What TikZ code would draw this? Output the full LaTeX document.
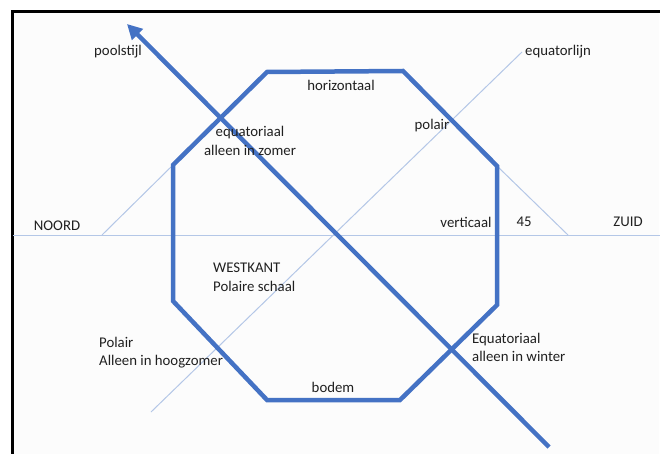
\documentclass[tikz,border=0pt]{standalone}
\usepackage{fontspec}
\setmainfont{Carlito}
\usetikzlibrary{arrows.meta}
\definecolor{thick}{HTML}{4472C4}
\definecolor{thin}{HTML}{B4C7E7}
\definecolor{txt}{HTML}{202020}
\begin{document}
\begin{tikzpicture}[x=1pt,y=-1pt,
  lbl/.style={font=\fontsize{14.8}{18.5}\selectfont,text=txt,inner sep=0pt},
  lbll/.style={lbl,align=left,anchor=north west},
  thinln/.style={draw=thin,line width=1pt},
  thickln/.style={draw=thick,line width=4.5pt},
]
\path[use as bounding box] (0,0) rectangle (660,454);
\fill[white!99!black] (13,13) rectangle (659,454);
\draw[black,line width=3pt] (12,454) -- (12,12) -- (660,12);
% coordinates
\coordinate (nA) at (102,235);
\coordinate (zA) at (660,235);
\coordinate (hL) at (13,235);
\coordinate (e1) at (151,412);
\coordinate (e2) at (522,52);
\coordinate (p1) at (549,447);
\coordinate (p2) at (127,24);
\coordinate (o1) at (267,72);
\coordinate (o2) at (403,71);
\coordinate (o3) at (497,166);
\coordinate (o4) at (497,305);
\coordinate (o5) at (400,400);
\coordinate (o6) at (267,400);
\coordinate (o7) at (173,301);
\coordinate (o8) at (173,165);
\coordinate (k45) at (568,235);
% thin lines
\draw[thinln] (hL) -- (zA);
\draw[thinln] (e1) -- (e2);
\draw[thinln] (nA) -- (o8);
\draw[thinln] (o3) -- (k45);
% octagon
\draw[thickln,line join=miter] (o1) -- (o2) -- (o3) -- (o4) -- (o5) -- (o6) -- (o7) -- (o8) -- cycle;
% pole arrow
\draw[thickln,-{Triangle[length=15pt,width=15pt]}] (p1) -- (p2);
% labels
\node[lbl] (t1) at (118,52) {poolstijl};
\node[lbl,anchor=west] (t2) at (525,52) {equatorlijn};
\node[lbl] (t3) at (341,85) {horizontaal};
\node[lbl] (t4) at (432,126) {polair};
\node[lbl,align=center] (t5) at (250,141) {equatoriaal\\alleen in zomer};
\node[lbl] (t6) at (57,226) {NOORD};
\node[lbl] (t7) at (466,222) {verticaal};
\node[lbl] (t8) at (524,222) {45};
\node[lbl] (t9) at (628,222) {ZUID};
\node[lbll] (t10) at (213,263) {WESTKANT\\Polaire schaal};
\node[lbll] (t11) at (99,337) {Polair\\Alleen in hoogzomer};
\node[lbll] (t12) at (472,333) {Equatoriaal\\alleen in winter};
\node[lbl] (t13) at (333,387) {bodem};
\end{tikzpicture}
\end{document}
